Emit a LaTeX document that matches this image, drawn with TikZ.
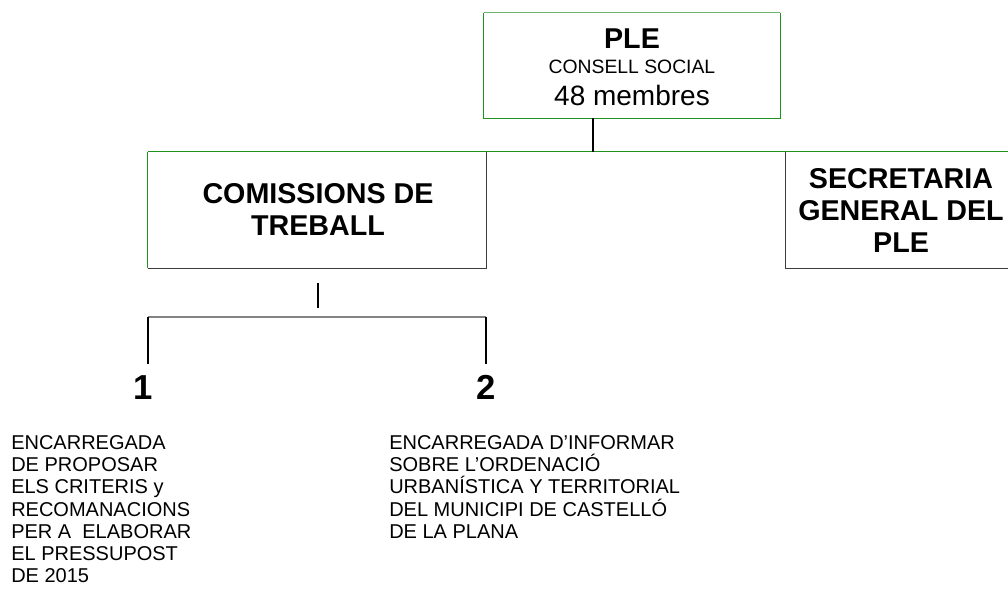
\documentclass[tikz,border=0pt]{standalone}
\usepackage{fontspec}
\setmainfont{Liberation Sans}
\definecolor{boxgreen}{RGB}{30,145,30}
\definecolor{lightgreen}{RGB}{110,180,110}
\definecolor{edgegray}{RGB}{60,60,60}
\definecolor{bracketgray}{RGB}{130,130,130}
\begin{document}
\begin{tikzpicture}[x=0.75pt,y=-0.75pt,
  box/.style={draw=none,rectangle,inner sep=0pt},
  head/.style={inner sep=0pt,anchor=base,font=\fontsize{21.5}{25}\selectfont\bfseries},
  sub/.style={inner sep=0pt,anchor=base,font=\fontsize{14.5}{17}\selectfont},
  big/.style={inner sep=0pt,anchor=base,font=\fontsize{21}{25}\selectfont},
  num/.style={inner sep=0pt,anchor=base,font=\fontsize{26}{30}\selectfont\bfseries},
  desc/.style={inner sep=0pt,anchor=north west,align=left,font=\fontsize{15}{16.7}\selectfont},
  conn/.style={draw=black,line width=1.9pt},
  thin/.style={line width=0.8pt}]
\useasboundingbox (0,0) rectangle (1008,597);
% boxes
\node[box,minimum width=222pt,minimum height=78.75pt] (ple) at (632,65.5) {};
\node[box,minimum width=253.5pt,minimum height=87pt] (com) at (317,210) {};
\node[box,minimum width=172.5pt,minimum height=87pt] (sec) at (901,210) {};
% borders
\draw[thin,lightgreen] (ple.north west) -- (ple.north east);
\draw[thin,boxgreen] (ple.north west) -- (ple.south west) -- (ple.south east) -- (ple.north east);
\draw[thin,boxgreen] (com.north west) -- (sec.north east);
\draw[thin,boxgreen] (com.north west) -- (com.south west);
\draw[thin,edgegray] (com.south west) -- (com.south east) -- (com.north east);
\draw[thin,edgegray] (sec.north west) -- (sec.south west) -- (sec.south east);
% texts in boxes
\node[head] (pletitle) at (632,48) {PLE};
\node[sub] (plesub) at (632,73) {CONSELL SOCIAL};
\node[big] (plenum) at (632,105) {48 membres};
\node[head] (com1) at (318,203) {COMISSIONS DE};
\node[head] (com2) at (318,235) {TREBALL};
\node[head] (sec1) at (901,188) {SECRETARIA};
\node[head] (sec2) at (901,220) {GENERAL DEL};
\node[head] (sec3) at (901,252) {PLE};
% connectors
\coordinate (pj) at (593,152);
\draw[conn] (ple.south -| pj) -- (pj);
\coordinate (ct1) at (318,283);
\coordinate (ct2) at (318,308);
\draw[conn] (ct1) -- (ct2);
\coordinate (bl) at (148,317);
\coordinate (br) at (486,317);
\coordinate (bl2) at (148,364);
\coordinate (br2) at (486,364);
\draw[thin,bracketgray] (bl) -- (br);
\draw[thin,black] (bl) -- (bl2);
\draw[thin,black] (br) -- (br2);
% numbers
\node[num] (n1) at (143,399) {1};
\node[num] (n2) at (486,399) {2};
% descriptions
\node[desc] (d1) at (11,435) {ENCARREGADA\\DE PROPOSAR\\ELS CRITERIS y\\RECOMANACIONS\\PER A\ \ ELABORAR\\EL PRESSUPOST\\DE 2015};
\node[desc] (d2) at (389,435) {ENCARREGADA D’INFORMAR\\SOBRE L'ORDENACIÓ\\URBANÍSTICA Y TERRITORIAL\\DEL MUNICIPI DE CASTELLÓ\\DE LA PLANA};
\end{tikzpicture}
\end{document}
